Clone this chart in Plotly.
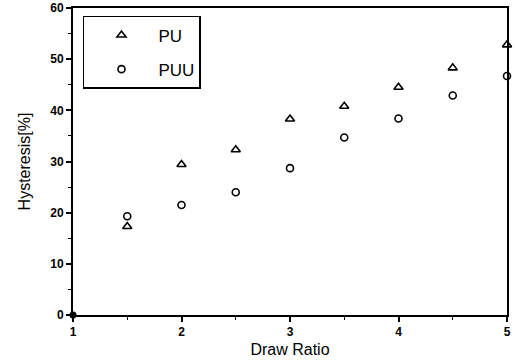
import plotly.graph_objects as go

draw_ratio = [1, 1.5, 2, 2.5, 3, 3.5, 4, 4.5, 5]
pu = [0, 17.3, 29.4, 32.3, 38.3, 40.8, 44.5, 48.3, 52.8]
puu = [0, 19.3, 21.5, 24.0, 28.7, 34.7, 38.4, 42.9, 46.7]
x_ticks = [1, 2, 3, 4, 5]
y_ticks = [0, 10, 20, 30, 40, 50, 60]

fig = go.Figure()
fig.add_trace(go.Scatter(x=draw_ratio[1:], y=pu[1:], mode="markers", name="PU",
                         legendgroup="a",
                         marker=dict(symbol="triangle-up-open", size=8, color="black",
                                     line=dict(width=1.6, color="black")),
                         cliponaxis=False))
fig.add_trace(go.Scatter(x=draw_ratio[1:], y=puu[1:], mode="markers", name="PUU",
                         legendgroup="b",
                         marker=dict(symbol="circle-open", size=7, color="black",
                                     line=dict(width=1.6, color="black")),
                         cliponaxis=False))
fig.add_trace(go.Scatter(x=draw_ratio[:1], y=pu[:1], mode="markers", showlegend=False,
                         marker=dict(symbol="circle", size=7, color="black"),
                         cliponaxis=False))

font_family = "Liberation Sans, Arial, sans-serif"
fig.update_layout(
    width=515, height=362,
    margin=dict(l=73, r=8, t=8, b=47),
    paper_bgcolor="white", plot_bgcolor="white",
    showlegend=True,
    legend=dict(x=0.023, y=0.974, xanchor="left", yanchor="top",
                bordercolor="black", borderwidth=1.5, bgcolor="white",
                font=dict(family=font_family, size=17, color="black"),
                itemwidth=64, traceorder="grouped", tracegroupgap=9),
    font=dict(family=font_family, color="black"),
)
fig.update_xaxes(range=[1, 5], tickvals=x_ticks, ticktext=[f"<b>{v}</b>" for v in x_ticks],
                 automargin=False,
                 showgrid=False, zeroline=False, showline=True, linecolor="black", linewidth=2,
                 mirror=True, ticks="outside", ticklen=5, tickwidth=1.5, tickcolor="black",
                 minor=dict(dtick=0.5, ticks="outside", ticklen=3, tickwidth=1.2, tickcolor="black"),
                 tickfont=dict(size=12, family=font_family),
                 title=dict(text="Draw Ratio", font=dict(size=16, family=font_family), standoff=5))
fig.update_yaxes(range=[0, 60], tickvals=y_ticks, ticktext=[f"<b>{v}</b>" for v in y_ticks],
                 automargin=False,
                 showgrid=False, zeroline=False, showline=True, linecolor="black", linewidth=2,
                 mirror=True, ticks="outside", ticklen=5, tickwidth=1.5, tickcolor="black",
                 minor=dict(dtick=5, ticks="outside", ticklen=3, tickwidth=1.2, tickcolor="black"),
                 tickfont=dict(size=12, family=font_family),
                 title=dict(text="Hysteresis[%]", font=dict(size=16, family=font_family), standoff=16))

fig.write_html("out.html")
